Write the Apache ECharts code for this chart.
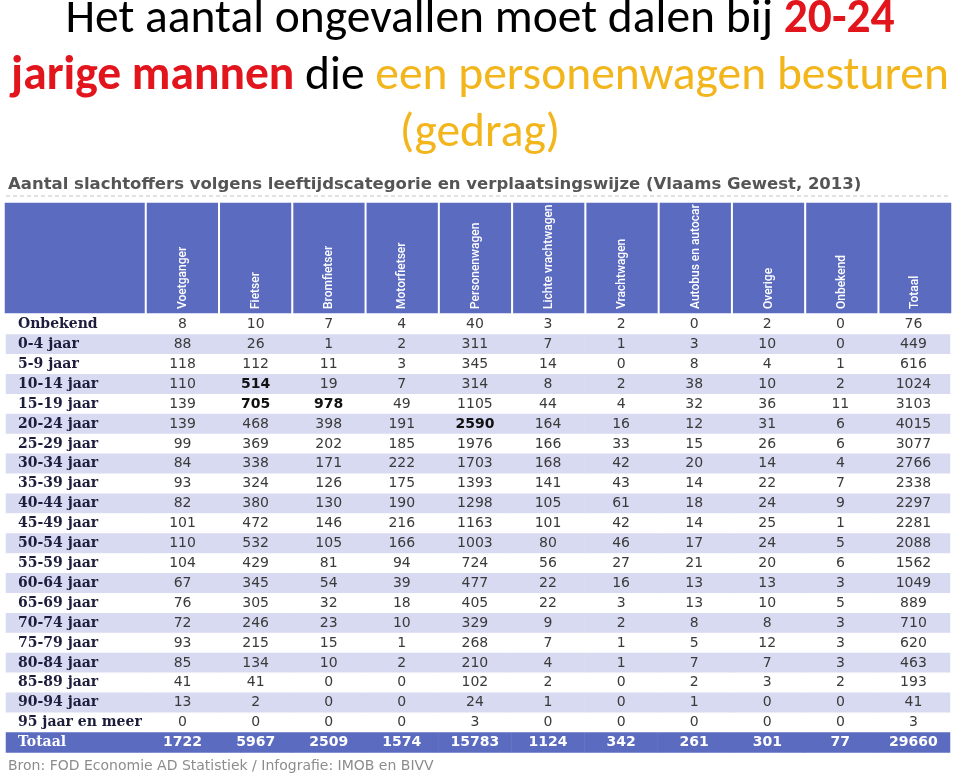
<!DOCTYPE html>
<html>
<head>
<meta charset="utf-8">
<script src="https://cdn.jsdelivr.net/npm/echarts@6/dist/echarts.min.js"></script>
<style>html,body{margin:0;padding:0;background:#fff}#c{width:960px;height:773px}</style>
</head>
<body>
<div id="c"></div>
<script>
// ---- data ----
const modes = ['Voetganger','Fietser','Bromfietser','Motorfietser','Personenwagen','Lichte vrachtwagen','Vrachtwagen','Autobus en autocar','Overige','Onbekend','Totaal'];
const ages = ['Onbekend','0-4 jaar','5-9 jaar','10-14 jaar','15-19 jaar','20-24 jaar','25-29 jaar','30-34 jaar','35-39 jaar','40-44 jaar','45-49 jaar','50-54 jaar','55-59 jaar','60-64 jaar','65-69 jaar','70-74 jaar','75-79 jaar','80-84 jaar','85-89 jaar','90-94 jaar','95 jaar en meer','Totaal'];
const voetganger        = [8,88,118,110,139,139,99,84,93,82,101,110,104,67,76,72,93,85,41,13,0,1722];
const fietser           = [10,26,112,514,705,468,369,338,324,380,472,532,429,345,305,246,215,134,41,2,0,5967];
const bromfietser       = [7,1,11,19,978,398,202,171,126,130,146,105,81,54,32,23,15,10,0,0,0,2509];
const motorfietser      = [4,2,3,7,49,191,185,222,175,190,216,166,94,39,18,10,1,2,0,0,0,1574];
const personenwagen     = [40,311,345,314,1105,2590,1976,1703,1393,1298,1163,1003,724,477,405,329,268,210,102,24,3,15783];
const lichteVrachtwagen = [3,7,14,8,44,164,166,168,141,105,101,80,56,22,22,9,7,4,2,1,0,1124];
const vrachtwagen       = [2,1,0,2,4,16,33,42,43,61,42,46,27,16,3,2,1,1,0,0,0,342];
const autobus           = [0,3,8,38,32,12,15,20,14,18,14,17,21,13,13,8,5,7,2,1,0,261];
const overige           = [2,10,4,10,36,31,26,14,22,24,25,24,20,13,10,8,12,7,3,0,0,301];
const onbekend          = [0,0,1,2,11,6,6,4,7,9,1,5,6,3,5,3,3,3,2,0,0,77];
const totaal            = [76,449,616,1024,3103,4015,3077,2766,2338,2297,2281,2088,1562,1049,889,710,620,463,193,41,3,29660];
const highlighted = [['Fietser','10-14 jaar'],['Fietser','15-19 jaar'],['Bromfietser','15-19 jaar'],['Personenwagen','20-24 jaar']];

// ---- build ----
const columns = [voetganger,fietser,bromfietser,motorfietser,personenwagen,lichteVrachtwagen,vrachtwagen,autobus,overige,onbekend,totaal];
const BLUE = '#5b6bc0', LAV = '#d7daf0';
const totalRow = ages.length - 1;
function rowColor(j){ return j === totalRow ? BLUE : (j % 2 === 1 ? LAV : '#ffffff'); }
function isBold(i,j){ return highlighted.some(h => h[0] === modes[i] && h[1] === ages[j]); }

const bodyData = [];
columns.forEach((col,i) => col.forEach((v,j) => {
  const tot = j === totalRow;
  bodyData.push({
    value:[i,j,v],
    itemStyle:{color:rowColor(j)},
    label:{color: tot ? '#ffffff' : (isBold(i,j) ? '#111' : '#3a3a3a'), fontWeight: (tot||isBold(i,j)) ? 'bold' : 'normal'}
  });
}));
const labelColData = ages.map((a,j) => ({value:[0,j,0], itemStyle:{color:rowColor(j)}}));
const headerData = modes.map((m,i) => ({value:[i,0,0]}));

const TF = 'Carlito, Lato, sans-serif';
const TS = 47.5;
const chart = echarts.init(document.getElementById('c'));
chart.setOption({
  animation:false,
  title:[
    {
      left:'center', top:-8, padding:0,
      text:'{k|Het aantal ongevallen moet dalen bij }{rb|20-24}\n{rb|jarige mannen}{k| die }{y|een personenwagen besturen}\n{y|(gedrag)}',
      textStyle:{
        fontWeight:'normal', fontFamily:TF, fontSize:TS,
        rich:{
          k:{fontFamily:TF, fontSize:TS, color:'#000', fontWeight:'normal', lineHeight:57},
          rb:{fontFamily:TF, fontSize:TS, color:'#e2141c', fontWeight:'bold', lineHeight:57},
          y:{fontFamily:TF, fontSize:TS, color:'#f2b51c', fontWeight:'normal', lineHeight:57}
        }
      }
    },
    {
      left:8, top:176, padding:0,
      text:'Aantal slachtoffers volgens leeftijdscategorie en verplaatsingswijze (Vlaams Gewest, 2013)',
      textStyle:{fontFamily:'DejaVu Sans, sans-serif', fontWeight:'bold', fontSize:16.5, color:'#555'}
    },
    {
      left:8, top:759, padding:0,
      text:'Bron: FOD Economie AD Statistiek / Infografie: IMOB en BIVV',
      textStyle:{fontFamily:'DejaVu Sans, sans-serif', fontWeight:'normal', fontSize:14, color:'#8c8c8c'}
    }
  ],
  graphic:[{type:'line', shape:{x1:6,y1:196,x2:950,y2:196}, style:{stroke:'#c4c4c4', lineWidth:1, lineDash:[4,3]}}],
  grid:[
    {left:4, top:202, width:142, height:112},
    {left:146, top:202, width:806, height:112},
    {left:6, top:314.5, width:140, height:438},
    {left:146, top:314.5, width:804, height:438}
  ],
  xAxis:[
    {gridIndex:0, type:'category', data:[''], show:false},
    {gridIndex:1, type:'category', data:modes, z:10,
      axisLine:{show:false}, axisTick:{show:false},
      axisLabel:{inside:true, rotate:90, margin:5, color:'#fff', interval:0,
        fontFamily:'Roboto, sans-serif', fontSize:12, fontWeight:500}},
    {gridIndex:2, type:'category', data:[''], show:false},
    {gridIndex:3, type:'category', data:modes, show:false}
  ],
  yAxis:[
    {gridIndex:0, type:'category', data:[''], show:false},
    {gridIndex:1, type:'category', data:[''], show:false},
    {gridIndex:2, type:'category', data:ages, inverse:true, z:10,
      axisLine:{show:false}, axisTick:{show:false},
      axisLabel:{inside:true, margin:12, interval:0,
        fontFamily:'DejaVu Serif, serif', fontWeight:'bold', fontSize:14,
        color:(v) => v === 'Totaal' ? '#ffffff' : '#1c1c3c'}},
    {gridIndex:3, type:'category', data:ages, inverse:true, show:false}
  ],
  series:[
    {type:'heatmap', xAxisIndex:0, yAxisIndex:0, data:[{value:[0,0,0]}],
      itemStyle:{color:BLUE, borderColor:'#fff', borderWidth:2}, label:{show:false}, emphasis:{disabled:true}},
    {type:'heatmap', xAxisIndex:1, yAxisIndex:1, data:headerData,
      itemStyle:{color:BLUE, borderColor:'#fff', borderWidth:2}, label:{show:false}, emphasis:{disabled:true}},
    {type:'heatmap', xAxisIndex:2, yAxisIndex:2, data:labelColData,
      label:{show:false}, emphasis:{disabled:true}},
    {type:'heatmap', xAxisIndex:3, yAxisIndex:3, data:bodyData,
      label:{show:true, formatter:(p) => String(p.value[2]), fontFamily:'DejaVu Sans, sans-serif', fontSize:14},
      emphasis:{disabled:true}}
  ]
});
</script>
</body>
</html>
